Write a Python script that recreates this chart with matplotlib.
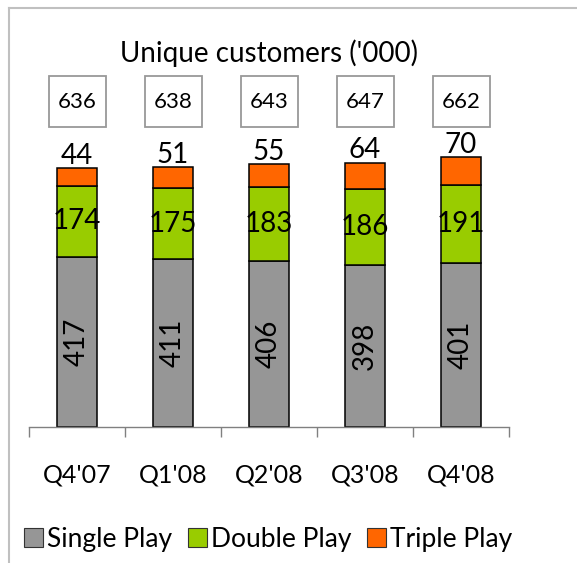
import matplotlib
matplotlib.use("Agg")
import matplotlib.pyplot as plt
from matplotlib.patches import Rectangle, Patch
from matplotlib.lines import Line2D
import matplotlib.transforms as mtransforms

categories = ["Q4'07", "Q1'08", "Q2'08", "Q3'08", "Q4'08"]
single_play = [417, 411, 406, 398, 401]
double_play = [174, 175, 183, 186, 191]
triple_play = [44, 51, 55, 64, 70]
totals = [636, 638, 643, 647, 662]
series_names = ["Single Play", "Double Play", "Triple Play"]
colors = ["#969696", "#99CC00", "#FF6600"]

FONT = ["Lato", "DejaVu Sans"]
plt.rcParams['font.family'] = FONT

W, H = 577, 563
fig = plt.figure(figsize=(W / 100, H / 100), dpi=100)
fig.patch.set_facecolor("white")

# axes placement in pixels
ax_left, ax_right, ax_bottom = 29, 509, 427
ymax = 700
px_per_unit = 0.408
ax_h = ymax * px_per_unit
ax = fig.add_axes([ax_left / W, (H - ax_bottom) / H, (ax_right - ax_left) / W, ax_h / H])
ax.set_xlim(-0.5, len(categories) - 0.5)
ax.set_ylim(0, ymax)
ax.patch.set_alpha(0)

x = list(range(len(categories)))
bw = 0.41
bottoms2 = single_play
bottoms3 = [a + b for a, b in zip(single_play, double_play)]
ax.bar(x, single_play, bw, color=colors[0], edgecolor="black", linewidth=1.1)
ax.bar(x, double_play, bw, bottom=bottoms2, color=colors[1], edgecolor="black", linewidth=1.1)
ax.bar(x, triple_play, bw, bottom=bottoms3, color=colors[2], edgecolor="black", linewidth=1.1)

for i in x:
    ax.text(i, single_play[i] / 2, str(single_play[i]), rotation=90, ha="center", va="center",
            fontsize=20, color="black")
    ax.text(i, bottoms2[i] + double_play[i] / 2, str(double_play[i]), ha="center", va="center",
            fontsize=20, color="black")
    ax.text(i, bottoms3[i] + triple_play[i] - 2, str(triple_play[i]), ha="center", va="bottom",
            fontsize=20, color="black")

for s in ["left", "right", "top"]:
    ax.spines[s].set_visible(False)
ax.spines["bottom"].set_color("#808080")
ax.spines["bottom"].set_linewidth(1.0)
ax.set_yticks([])
ax.set_xticks(x)
ax.set_xticklabels(categories, fontsize=18)
ax.tick_params(axis="x", which="major", length=0, pad=26)
ax.set_xticks([i - 0.5 for i in range(len(categories) + 1)], minor=True)
ax.tick_params(axis="x", which="minor", length=7, width=1.0, color="#808080", direction="out")

# total boxes
trans = mtransforms.blended_transform_factory(ax.transData, fig.transFigure)
box_w = 57 / 96
box_top, box_bot = 76, 127
for i in x:
    ax.add_patch(Rectangle((i - box_w / 2, 1 - box_bot / H), box_w, (box_bot - box_top) / H,
                           transform=trans, facecolor="white", edgecolor="#999999",
                           linewidth=1.3, clip_on=False))
    ax.text(i, 1 - ((box_top + box_bot) / 2) / H, str(totals[i]), transform=trans,
            ha="center", va="center", fontsize=16)

# title
fig.text((ax_left + ax_right) / 2 / W, 1 - 53 / H, "Unique customers ('000)", ha="center",
         va="center", fontsize=20)

# legend
handles = [Patch(facecolor=c, edgecolor="#333333", linewidth=0.8) for c in colors]
fig.legend(handles, series_names, loc="center", bbox_to_anchor=(268 / W, 1 - 539 / H),
           ncol=3, frameon=False, fontsize=19, handlelength=0.72, handleheight=0.72,
           handletextpad=0.15, columnspacing=0.6, borderaxespad=0)

# outer frame (left and top edges visible)
fig.add_artist(Line2D([9 / W, 9 / W], [0, 1 - 8 / H], transform=fig.transFigure,
                      color="#c0c0c0", linewidth=1.5))
fig.add_artist(Line2D([9 / W, 1], [1 - 8 / H, 1 - 8 / H], transform=fig.transFigure,
                      color="#c0c0c0", linewidth=1.5))

fig.savefig("out.png", dpi=100, facecolor="white")
